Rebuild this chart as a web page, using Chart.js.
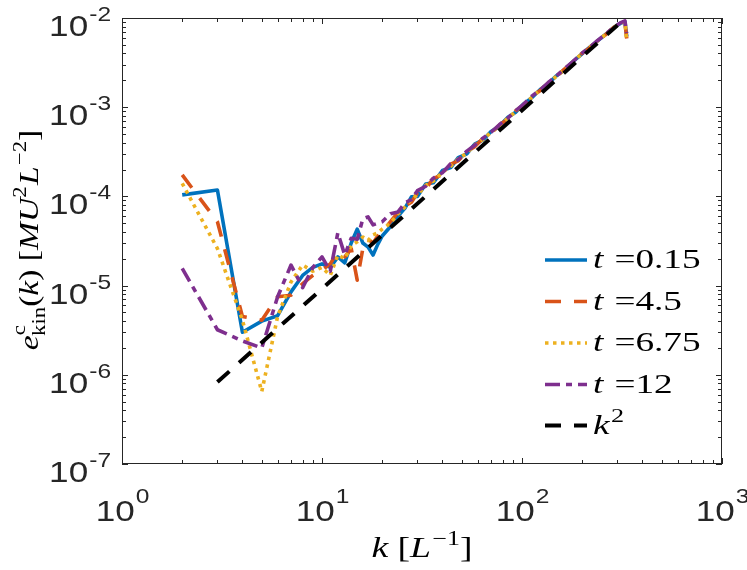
<!DOCTYPE html>
<html>
<head>
<meta charset="utf-8">
<script src="https://cdn.jsdelivr.net/npm/chart.js@4.4.1/dist/chart.umd.min.js"></script>
<style>
html,body{margin:0;padding:0;background:#fff;}
#c{display:block;}
</style>
</head>
<body>
<canvas id="c" width="747" height="570"></canvas>
<script>
// ---- data ----
const kValues = [2,3,4,5,6,7,8,9,10,11,12,13,14,15,16,17,18,19,20,22,24,26,28,30,33,36,40,44,48,53,58,64,70,77,85,93,102,112,123,135,148,163,179,197,216,238,261,287,310,327,334];

const eT015 = [1.04e-4,1.18e-4,3.0e-6,4.0e-6,4.6e-6,8.5e-6,1.3e-5,1.6e-5,1.75e-5,1.6e-5,2.1e-5,1.8e-5,3.0e-5,4.3e-5,3.0e-5,2.7e-5,2.2e-5,2.9e-5,3.6e-5,4.6e-5,6.0e-5,7.4e-5,9.9e-5,1.0e-4,1.38e-4,1.42e-4,1.95e-4,2.1e-4,2.72e-4,3.0e-4,3.85e-4,4.3e-4,5.35e-4,6.1e-4,7.7e-4,8.8e-4,1.09e-3,1.28e-3,1.57e-3,1.83e-3,2.23e-3,2.63e-3,3.23e-3,3.87e-3,4.63e-3,5.5e-3,6.5e-3,7.8e-3,8.7e-3,9.1e-3,6.2e-3];

const eT45 = [1.74e-4,5.2e-5,4.5e-6,4.1e-6,7.5e-6,7.8e-6,1.05e-5,1.3e-5,1.5e-5,1.75e-5,2.4e-5,2.1e-5,2.6e-5,1.15e-5,2.6e-5,3.3e-5,3.0e-5,3.6e-5,4.0e-5,5.2e-5,6.6e-5,7.8e-5,8.6e-5,1.1e-4,1.22e-4,1.58e-4,1.76e-4,2.3e-4,2.5e-4,3.2e-4,3.6e-4,4.5e-4,5.1e-4,6.3e-4,7.4e-4,9.15e-4,1.05e-3,1.32e-3,1.53e-3,1.87e-3,2.18e-3,2.67e-3,3.17e-3,3.93e-3,4.57e-3,5.53e-3,6.47e-3,7.83e-3,8.67e-3,9.0e-3,5.9e-3];

const eT675 = [1.4e-4,2.6e-5,4.1e-6,6.5e-7,4.5e-6,1.1e-5,1.7e-5,1.45e-5,1.6e-5,1.3e-5,2.2e-5,2.0e-5,2.8e-5,3.1e-5,3.5e-5,3.2e-5,3.7e-5,3.9e-5,4.3e-5,5.0e-5,6.4e-5,7.6e-5,9.3e-5,1.04e-4,1.33e-4,1.48e-4,1.87e-4,2.18e-4,2.63e-4,3.07e-4,3.78e-4,4.37e-4,5.23e-4,6.17e-4,7.57e-4,8.9e-4,1.075e-3,1.29e-3,1.56e-3,1.84e-3,2.21e-3,2.64e-3,3.21e-3,3.89e-3,4.61e-3,5.5e-3,6.5e-3,7.8e-3,8.7e-3,9.1e-3,5.4e-3];

const eT12 = [1.56e-5,3.2e-6,2.4e-6,2.0e-6,7.5e-6,1.7e-5,9.5e-6,1.6e-5,2.1e-5,1.45e-5,3.9e-5,2.2e-5,3.4e-5,3.3e-5,5.6e-5,5.9e-5,4.8e-5,5.0e-5,5.2e-5,6.4e-5,6.7e-5,8.5e-5,9.2e-5,1.16e-4,1.3e-4,1.6e-4,1.84e-4,2.32e-4,2.58e-4,3.22e-4,3.74e-4,4.53e-4,5.24e-4,6.35e-4,7.55e-4,9.15e-4,1.085e-3,1.33e-3,1.56e-3,1.88e-3,2.22e-3,2.69e-3,3.22e-3,3.94e-3,4.62e-3,5.56e-3,6.54e-3,7.86e-3,8.8e-3,9.3e-3,6.8e-3];

const kRef = [3, 300];
const eRef = [8.3e-7, 8.3e-3];

const tLabels = ['0.15', '4.5', '6.75', '12'];

const xTickValues = [1, 10, 100, 1000];
const xTickExponents = ['0', '1', '2', '3'];
const yTickValues = [1e-7, 1e-6, 1e-5, 1e-4, 1e-3, 1e-2];
const yTickExponents = ['-7', '-6', '-5', '-4', '-3', '-2'];

// ---- build datasets ----
function pts(xs, ys) { return xs.map((x, i) => ({ x: x, y: ys[i] })); }

const seriesValues = [eT015, eT45, eT675, eT12];
const seriesColors = ['#0072BD', '#D95319', '#EDB120', '#7E2F8E'];
const seriesDash = [[], [16, 13], [3.5, 4.5], [15, 6, 6, 6]];

const datasets = seriesValues.map((vals, i) => ({
  label: 't =' + tLabels[i],
  data: pts(kValues, vals),
  borderColor: seriesColors[i],
  backgroundColor: seriesColors[i],
  borderWidth: 3.6,
  borderDash: seriesDash[i],
  borderCapStyle: 'butt',
  borderJoinStyle: 'round',
  pointRadius: 0,
  tension: 0,
  fill: false,
  order: 4 - i
}));
datasets.push({
  label: 'k^2',
  data: pts(kRef, eRef),
  borderColor: '#000000',
  backgroundColor: '#000000',
  borderWidth: 4,
  borderDash: [16, 13],
  borderCapStyle: 'butt',
  pointRadius: 0,
  tension: 0,
  fill: false,
  order: 0
});

// ---- text helper (segments with size, style, vertical offset) ----
function drawRich(ctx, segs, x, y, align, sx) {
  const widths = segs.map(s => { ctx.font = s.font; return ctx.measureText(s.text).width + (s.gap || 0); });
  const total = widths.reduce((a, b) => a + b, 0) * sx;
  let start = align === 'center' ? x - total / 2 : (align === 'right' ? x - total : x);
  ctx.save();
  ctx.translate(start, y);
  ctx.scale(sx, 1);
  ctx.textAlign = 'left';
  ctx.textBaseline = 'alphabetic';
  let cx = 0;
  segs.forEach((s, i) => { ctx.font = s.font; ctx.fillText(s.text, cx + (s.pre || 0), s.dy || 0); cx += widths[i]; });
  ctx.restore();
  return total;
}

const SANS = '"Liberation Sans", Arial, sans-serif';
const SERIF = '"Liberation Serif", "DejaVu Serif", serif';
const AX = '#262626';

const axesPlugin = {
  id: 'matlabAxes',
  afterDraw(chart) {
    const ctx = chart.ctx;
    const a = chart.chartArea;
    const xs = chart.scales.x, ys = chart.scales.y;
    ctx.save();
    // box
    ctx.strokeStyle = AX;
    ctx.lineWidth = 1;
    ctx.setLineDash([]);
    ctx.strokeRect(a.left + 0.5, a.top + 0.5, a.right - a.left - 1, a.bottom - a.top - 1);
    // ticks
    const majL = 6, minL = 4;
    ctx.beginPath();
    for (let d = 0; d < xTickValues.length; d++) {
      const base = xTickValues[d];
      for (let m = 1; m <= 9; m++) {
        const v = base * m;
        if (v > xTickValues[xTickValues.length - 1]) break;
        const px = Math.round(xs.getPixelForValue(v)) + 0.5;
        const L = m === 1 ? majL : minL;
        ctx.moveTo(px, a.bottom); ctx.lineTo(px, a.bottom - L);
        ctx.moveTo(px, a.top); ctx.lineTo(px, a.top + L);
      }
    }
    for (let d = 0; d < yTickValues.length; d++) {
      const base = yTickValues[d];
      for (let m = 1; m <= 9; m++) {
        const v = base * m;
        if (v > yTickValues[yTickValues.length - 1] * 1.0001) break;
        const py = Math.round(ys.getPixelForValue(v)) + 0.5;
        const L = m === 1 ? majL : minL;
        ctx.moveTo(a.left, py); ctx.lineTo(a.left + L, py);
        ctx.moveTo(a.right, py); ctx.lineTo(a.right - L, py);
      }
    }
    ctx.stroke();

    // tick labels
    ctx.fillStyle = AX;
    const fBig = '30px ' + SANS, fSup = '21px ' + SANS;
    xTickValues.forEach((v, i) => {
      const px = xs.getPixelForValue(v);
      drawRich(ctx, [
        { text: '10', font: fBig },
        { text: xTickExponents[i], font: fSup, dy: -18, pre: 1 }
      ], px, a.bottom + 57, 'center', 1.17);
    });
    yTickValues.forEach((v, i) => {
      const py = ys.getPixelForValue(v);
      drawRich(ctx, [
        { text: '10', font: fBig },
        { text: yTickExponents[i], font: fSup, dy: -15, pre: 1 }
      ], a.left - 12, py + 18, 'right', 1.17);
    });

    // x axis title: k [L^-1]
    ctx.fillStyle = '#000';
    const fT = '29px ' + SERIF, fTi = 'italic 29px ' + SERIF, fTs = '20px ' + SERIF;
    drawRich(ctx, [
      { text: 'k', font: fTi, gap: 7 },
      { text: '[', font: fT },
      { text: 'L', font: fTi, gap: 1 },
      { text: '\u22121', font: fTs, dy: -12 },
      { text: ']', font: fT }
    ], (a.left + a.right) / 2, 557, 'center', 1.3);

    // y axis title (rotated)
    const gT = '28px ' + SERIF, gTi = 'italic 28px ' + SERIF, gTs = '19px ' + SERIF;
    ctx.save();
    ctx.translate(38, 240);
    ctx.rotate(-Math.PI / 2);
    drawRich(ctx, [
      { text: 'e', font: gTi },
      { text: 'c', font: gTs, dy: -13, gap: -9 },
      { text: 'kin', font: gTs, dy: 7 },
      { text: '(', font: gT },
      { text: 'k', font: gTi },
      { text: ')', font: gT, gap: 7 },
      { text: '[', font: gT },
      { text: 'MU', font: gTi },
      { text: '2', font: gTs, dy: -12, gap: 1 },
      { text: 'L', font: gTi, gap: 1 },
      { text: '\u22122', font: gTs, dy: -12 },
      { text: ']', font: gT }
    ], 0, 0, 'center', 1.2);
    ctx.restore();

    // legend
    const lx0 = 545, lx1 = 587, tx = 593;
    const rows = [260, 301.5, 343, 384.5, 425.5];
    chart.data.datasets.forEach((ds, i) => {
      const y = rows[i];
      ctx.save();
      ctx.strokeStyle = ds.borderColor;
      ctx.lineWidth = ds.borderWidth;
      ctx.lineCap = 'butt';
      ctx.setLineDash(ds.borderDash || []);
      ctx.beginPath();
      ctx.moveTo(lx0, y); ctx.lineTo(lx1, y);
      ctx.stroke();
      ctx.restore();
      ctx.fillStyle = '#000';
      const fL = '27px ' + SERIF, fLi = 'italic 27px ' + SERIF, fLs = '19px ' + SERIF;
      if (i < tLabels.length) {
        drawRich(ctx, [
          { text: 't', font: fLi, gap: 8 },
          { text: '=', font: fL, gap: 0 },
          { text: tLabels[i], font: fL }
        ], tx, y + 8, 'left', 1.38);
      } else {
        drawRich(ctx, [
          { text: 'k', font: fLi, gap: 1 },
          { text: '2', font: fLs, dy: -12 }
        ], tx, y + 8, 'left', 1.38);
      }
    });
    ctx.restore();
  }
};

new Chart(document.getElementById('c').getContext('2d'), {
  type: 'line',
  data: { datasets: datasets },
  options: {
    responsive: false,
    animation: false,
    devicePixelRatio: 1,
    layout: { padding: { left: 122, right: 25, top: 18, bottom: 106 } },
    scales: {
      x: { type: 'logarithmic', min: 1, max: 1000, display: false },
      y: { type: 'logarithmic', min: 1e-7, max: 1e-2, display: false }
    },
    plugins: { legend: { display: false }, tooltip: { enabled: false } },
    elements: { point: { radius: 0 }, line: { tension: 0 } }
  },
  plugins: [axesPlugin]
});
</script>
</body>
</html>
